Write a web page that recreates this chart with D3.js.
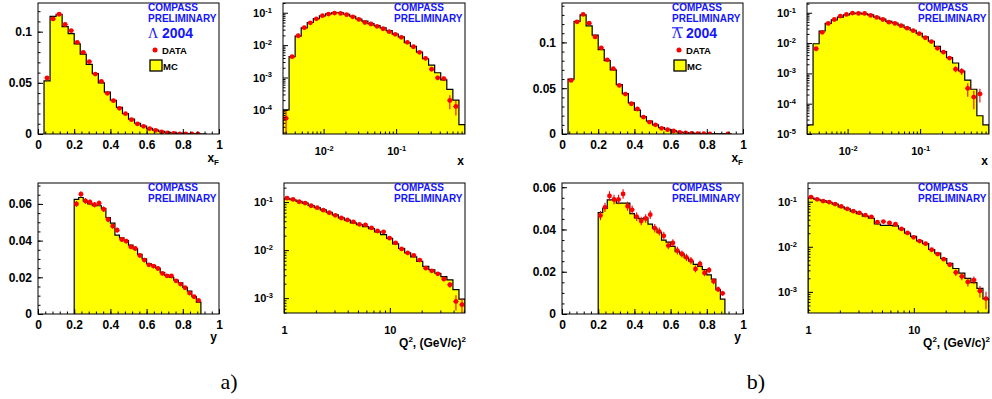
<!DOCTYPE html>
<html>
<head>
<meta charset="utf-8">
<script src="https://cdn.jsdelivr.net/npm/d3@7"></script>
<style>
  body { margin: 0; background: #fff; }
  text { font-family: "Liberation Sans", Arial, sans-serif; font-weight: bold; }
</style>
</head>
<body>
<svg id="chart" width="992" height="399"></svg>
<script>
// ---- binning of the histograms ----
const xfBins = { lo: 1 / 30, hi: 28 / 30, n: 27 };
const yBins = { lo: 0.2, hi: 0.9, n: 28 };
const xBjBins = { lo: 0.002754, hi: 0.8913, n: 30 };   // log bins
const q2Bins = { lo: 1, hi: 51.3, n: 30 };             // log bins

// ---- a) Lambda ----
const xfLamMC = [0.052, 0.115, 0.117, 0.105, 0.098, 0.088, 0.078, 0.068, 0.059, 0.050, 0.041, 0.033, 0.026, 0.020, 0.0145,
  0.0105, 0.0077, 0.0055, 0.0038, 0.0025, 0.0016, 0.0010, 0.0006, 0.0004, 0.0002, 0.0001, 0];
const xfLamData = [0.0547, 0.1124, 0.117, 0.107, 0.101, 0.0896, 0.0798, 0.0707, 0.0586, 0.0515, 0.0397, 0.0326, 0.0251, 0.0199, 0.014,
  0.0098, 0.0075, 0.0052, 0.0036, 0.002, 0.001, 0.0005, 0.0002, 0.0001, 0.0001, 0.0001, null];
const xfLamErr = [0.0008, 0.0012, 0.0012, 0.0011, 0.0011, 0.001, 0.001, 0.0009, 0.0009, 0.0008, 0.0007, 0.0007, 0.0006, 0.0005, 0.0005,
  0.0004, 0.0003, 0.0003, 0.0002, 0.0002, 0.0001, 0.0001, 0.0001, 0.0001, 0.0001, 0.0001, 0];

const xLamMC = [1e-4, 0.0044, 0.019, 0.034, 0.050, 0.066, 0.080, 0.092, 0.100, 0.100, 0.090, 0.078, 0.064, 0.055, 0.046,
  0.040, 0.034, 0.028, 0.022, 0.018, 0.012, 0.0092, 0.0061, 0.0038, 0.0024, 0.0014, 0.00085, 0.00043, 0.0002, 3.5e-5];
const xLamData = [5.5e-5, 0.0044, 0.0195, 0.0346, 0.049, 0.065, 0.081, 0.091, 0.098, 0.095, 0.087, 0.075, 0.062, 0.050, 0.045,
  0.038, 0.032, 0.026, 0.0215, 0.0174, 0.0122, 0.0089, 0.006, 0.0039, 0.0018, 0.00098, 0.00093, 0.000195, 0.000127, null];
const xLamErr = [4e-5, 2e-4, 5e-4, 7e-4, 8e-4, 9e-4, 1e-3, 1e-3, 1e-3, 1e-3, 1e-3, 9e-4, 8e-4, 7e-4, 7e-4,
  6e-4, 5e-4, 5e-4, 4e-4, 4e-4, 3e-4, 3e-4, 2e-4, 2e-4, 1.5e-4, 1.5e-4, 1.5e-4, 9e-5, 6e-5, 0];

const yLamMC = [0.0625, 0.0635, 0.0615, 0.060, 0.059, 0.059, 0.0575, 0.0525, 0.0495, 0.043, 0.0415, 0.040, 0.0375, 0.0355,
  0.0325, 0.030, 0.0275, 0.0265, 0.025, 0.0225, 0.021, 0.020, 0.0185, 0.017, 0.0145, 0.0125, 0.0095, 0.0065];
const yLamData = [0.060, 0.0653, 0.0616, 0.0609, 0.0596, 0.0604, 0.0571, 0.0515, 0.0479, 0.0457, 0.0406, 0.0397, 0.0366, 0.0357,
  0.0319, 0.0294, 0.0268, 0.0261, 0.0248, 0.0221, 0.0208, 0.0207, 0.0181, 0.0163, 0.0143, 0.0114, 0.0094, 0.0074];
const yLamErr = [0.0016, 0.0016, 0.0016, 0.0016, 0.0015, 0.0015, 0.0015, 0.0015, 0.0014, 0.0014, 0.0014, 0.0013, 0.0013, 0.0013,
  0.0012, 0.0012, 0.0012, 0.0011, 0.0011, 0.0011, 0.001, 0.001, 0.001, 0.001, 0.0009, 0.0009, 0.0009, 0.0008];

const q2LamMC = [0.118, 0.112, 0.104, 0.095, 0.085, 0.077, 0.069, 0.061, 0.054, 0.047, 0.042, 0.037, 0.034, 0.031, 0.028,
  0.024, 0.021, 0.0175, 0.0135, 0.0108, 0.0088, 0.0072, 0.0058, 0.0046, 0.0039, 0.0033, 0.0028, 0.0024, 0.0015, 0.00095];
const q2LamData = [0.121, 0.1135, 0.1016, 0.0953, 0.084, 0.0764, 0.068, 0.060, 0.053, 0.0467, 0.0425, 0.0386, 0.0345, 0.0334, 0.029,
  0.025, 0.024, 0.0177, 0.0142, 0.0106, 0.0088, 0.0078, 0.0062, 0.0042, 0.0037, 0.0032, 0.0025, 0.0019, 0.00085, 0.00073];
const q2LamErr = [0.001, 0.001, 0.001, 0.001, 0.001, 9e-4, 9e-4, 8e-4, 8e-4, 7e-4, 7e-4, 6e-4, 6e-4, 6e-4, 5e-4,
  5e-4, 5e-4, 4e-4, 4e-4, 3e-4, 3e-4, 3e-4, 3e-4, 2.5e-4, 2.5e-4, 2.5e-4, 2.5e-4, 2.5e-4, 3e-4, 2.5e-4];

// ---- b) anti-Lambda ----
const xfAlamMC = [0.060, 0.123, 0.130, 0.118, 0.108, 0.092, 0.080, 0.070, 0.054, 0.044, 0.034, 0.026, 0.019, 0.014, 0.010,
  0.007, 0.005, 0.0035, 0.0022, 0.0014, 0.0009, 0.0005, 0.0003, 0.0002, 0.0001, 0.0001, 0.0001];
const xfAlamData = [0.0585, 0.1225, 0.1305, 0.121, 0.106, 0.094, 0.081, 0.0713, 0.053, 0.0436, 0.033, 0.0273, 0.0185, 0.013, 0.010,
  0.0062, 0.0047, 0.0033, 0.0018, 0.0011, 0.0007, 0.0005, 0.0004, 0.0002, null, null, 0.0002];
const xfAlamErr = [0.001, 0.0015, 0.0015, 0.0015, 0.0014, 0.0013, 0.0012, 0.0011, 0.001, 0.0009, 0.0008, 0.0007, 0.0006, 0.0005, 0.0004,
  0.0003, 0.0003, 0.0002, 0.0002, 0.0001, 0.0001, 0.0001, 0.0001, 0.0001, 0, 0, 0.0001];

const xAlamMC = [2e-5, 0.0095, 0.025, 0.045, 0.058, 0.072, 0.085, 0.093, 0.097, 0.092, 0.085, 0.072, 0.062, 0.052, 0.046,
  0.039, 0.032, 0.0265, 0.021, 0.016, 0.0115, 0.0078, 0.0052, 0.0033, 0.0022, 0.0012, 0.0006, 0.0003, 4e-5, 2e-5];
const xAlamData = [null, 0.0065, 0.0226, 0.0446, 0.060, 0.078, 0.088, 0.098, 0.095, 0.095, 0.082, 0.070, 0.060, 0.049, 0.0446,
  0.0375, 0.031, 0.0256, 0.0204, 0.015, 0.0112, 0.0067, 0.005, 0.0032, 0.00138, 0.00118, 0.00032, 0.000165, 0.00021, null];
const xAlamErr = [0, 3e-4, 8e-4, 1.2e-3, 1.4e-3, 1.6e-3, 1.7e-3, 1.8e-3, 1.8e-3, 1.8e-3, 1.6e-3, 1.5e-3, 1.4e-3, 1.2e-3, 1.1e-3,
  1e-3, 9e-4, 8e-4, 7e-4, 6e-4, 5e-4, 4e-4, 3.5e-4, 3e-4, 3e-4, 3e-4, 1.5e-4, 1e-4, 1e-4, 0];

const yAlamMC = [0.048, 0.050, 0.054, 0.054, 0.0525, 0.0525, 0.0525, 0.0475, 0.0455, 0.045, 0.0455, 0.0425, 0.0405, 0.0385,
  0.035, 0.034, 0.032, 0.0295, 0.0285, 0.0265, 0.025, 0.0235, 0.0225, 0.021, 0.0185, 0.0165, 0.0115, 0.007];
const yAlamData = [0.0466, 0.0505, 0.0559, 0.0542, 0.0542, 0.0568, 0.051, 0.0493, 0.0461, 0.044, 0.0452, 0.047, 0.0406, 0.039,
  0.037, 0.0324, 0.0336, 0.030, 0.0284, 0.0268, 0.0253, 0.0213, 0.0237, 0.0194, 0.0208, 0.0155, 0.0117, 0.0098];
const yAlamErr = [0.0022, 0.0022, 0.0022, 0.0022, 0.0022, 0.0022, 0.0021, 0.0021, 0.0021, 0.002, 0.002, 0.002, 0.002, 0.0019,
  0.0019, 0.0018, 0.0018, 0.0018, 0.0017, 0.0017, 0.0017, 0.0016, 0.0016, 0.0015, 0.0015, 0.0014, 0.0013, 0.0012];

const q2AlamMC = [0.120, 0.113, 0.106, 0.097, 0.088, 0.077, 0.069, 0.061, 0.054, 0.048, 0.043, 0.032, 0.030, 0.030, 0.029,
  0.025, 0.020, 0.017, 0.0135, 0.0118, 0.0087, 0.0072, 0.0055, 0.0043, 0.0033, 0.0026, 0.0020, 0.0016, 0.0012, 0.0007];
const q2AlamData = [0.127, 0.113, 0.1035, 0.098, 0.0887, 0.0786, 0.0697, 0.0618, 0.0567, 0.0503, 0.0461, 0.035, 0.0363, 0.0339, 0.0316,
  0.0249, 0.0203, 0.0162, 0.0134, 0.0117, 0.0086, 0.0069, 0.0053, 0.0040, 0.0027, 0.0022, 0.00166, 0.00183, 0.00105, 0.00071];
const q2AlamErr = [0.0015, 0.0015, 0.0014, 0.0014, 0.0013, 0.0012, 0.0012, 0.0011, 0.0011, 0.001, 0.001, 9e-4, 9e-4, 9e-4, 8e-4,
  7e-4, 7e-4, 6e-4, 6e-4, 5e-4, 5e-4, 4e-4, 4e-4, 4e-4, 4.5e-4, 4e-4, 3.5e-4, 3.5e-4, 3e-4, 3e-4];

// ---- tick values ----
const linXTicks = [0, 0.2, 0.4, 0.6, 0.8, 1];
const linXLabels = ["0", "0.2", "0.4", "0.6", "0.8", "1"];
const xfYTicks = [0, 0.05, 0.1];
const xfYLabels = ["0", "0.05", "0.1"];
const yYTicks = [0, 0.02, 0.04, 0.06];
const yYLabels = ["0", "0.02", "0.04", "0.06"];
const xBjXTicks = [1e-2, 1e-1];
const q2XTicks = [1, 10];
const q2XLabels = ["1", "10"];
const xBjLamYTicks = [1e-4, 1e-3, 1e-2, 1e-1];
const xBjAlamYTicks = [1e-5, 1e-4, 1e-3, 1e-2, 1e-1];
const q2YTicks = [1e-3, 1e-2, 1e-1];

const svg = d3.select('#chart');
const BLUE = '#1414ff';
const SERIF = '"Liberation Serif", "DejaVu Serif", serif';

function logMinor(dom) {
  const out = [];
  for (let e = Math.floor(Math.log10(dom[0])); e <= Math.ceil(Math.log10(dom[1])); e++) {
    for (let k = 2; k <= 9; k++) {
      const v = k * Math.pow(10, e);
      if (v >= dom[0] && v <= dom[1]) out.push(v);
    }
  }
  return out;
}

function powLabels(sel) {
  sel.selectAll('.tick text').each(function (d) {
    const t = d3.select(this);
    t.text(null);
    t.append('tspan').text('10');
    t.append('tspan').attr('dy', '-0.55em').attr('font-size', '7.5px').text(Math.round(Math.log10(d)));
  });
}

let clipId = 0;
function panel(p) {
  const [x0, y0, x1, y1] = p.box;
  const x = (p.xLog ? d3.scaleLog() : d3.scaleLinear()).domain(p.xDom).range([x0, x1]);
  const y = (p.yLog ? d3.scaleLog() : d3.scaleLinear()).domain(p.yDom).range([y1, y0]).clamp(true);
  const g = svg.append('g');

  const b = p.bins;
  const edges = d3.range(b.n + 1).map(i => p.xLog
    ? b.lo * Math.pow(b.hi / b.lo, i / b.n)
    : b.lo + (b.hi - b.lo) * i / b.n);
  const mid = i => p.xLog ? Math.sqrt(edges[i] * edges[i + 1]) : (edges[i] + edges[i + 1]) / 2;
  const yv = v => y(Math.max(v, p.yDom[0]));

  const cid = 'clip' + (clipId++);
  g.append('clipPath').attr('id', cid).append('rect')
    .attr('x', x0).attr('y', y0).attr('width', x1 - x0).attr('height', y1 - y0);
  const inner = g.append('g').attr('clip-path', `url(#${cid})`);

  // MC histogram
  let d = `M${x(edges[0])},${y1}`;
  p.mc.forEach((v, i) => { d += `L${x(edges[i])},${yv(v)}L${x(edges[i + 1])},${yv(v)}`; });
  d += `L${x(edges[b.n])},${y1}`;
  inner.append('path').attr('d', d + 'Z').attr('fill', '#ffff00').attr('stroke', 'none');
  inner.append('path').attr('d', d).attr('fill', 'none').attr('stroke', '#000').attr('stroke-width', 1.2);

  // data points with error bars
  const pts = p.data.map((v, i) => ({ v, e: p.err[i], i })).filter(o => o.v != null);
  const pg = inner.append('g').attr('stroke', '#ff0000').attr('stroke-width', 1.1);
  pg.selectAll('line.ey').data(pts).join('line').attr('class', 'ey')
    .attr('x1', o => x(mid(o.i))).attr('x2', o => x(mid(o.i)))
    .attr('y1', o => yv(o.v - o.e)).attr('y2', o => yv(o.v + o.e));
  pg.selectAll('line.ex').data(pts).join('line').attr('class', 'ex')
    .attr('x1', o => x(edges[o.i]) + 0.5).attr('x2', o => x(edges[o.i + 1]) - 0.5)
    .attr('y1', o => yv(o.v)).attr('y2', o => yv(o.v));
  pg.selectAll('circle').data(pts).join('circle')
    .attr('cx', o => x(mid(o.i))).attr('cy', o => yv(o.v)).attr('r', 2.4)
    .attr('fill', '#ff0000').attr('stroke', 'none');

  // axes (ROOT style: ticks inward)
  const xMinor = p.xLog ? logMinor(p.xDom) : p.xMinor;
  const yMinor = p.yLog ? logMinor(p.yDom) : p.yMinor;
  g.append('g').attr('transform', `translate(0,${y1})`)
    .call(d3.axisBottom(x).tickValues(xMinor).tickSizeInner(-2.5).tickSizeOuter(0).tickFormat(''))
    .call(s => s.select('.domain').remove());
  g.append('g').attr('transform', `translate(${x0},0)`)
    .call(d3.axisLeft(y).tickValues(yMinor).tickSizeInner(-2.5).tickSizeOuter(0).tickFormat(''))
    .call(s => s.select('.domain').remove());

  const xa = g.append('g').attr('transform', `translate(0,${y1})`)
    .call(d3.axisBottom(x).tickValues(p.xTicks).tickSizeInner(-5).tickSizeOuter(0).tickPadding(p.xPad)
      .tickFormat((v, i) => p.xLabels ? p.xLabels[i] : ''));
  xa.select('.domain').remove();
  xa.selectAll('text').attr('font-size', p.xLog ? '11px' : '12px').attr('fill', '#000');
  if (p.xLog && !p.xLabels) powLabels(xa);

  const ya = g.append('g').attr('transform', `translate(${x0},0)`)
    .call(d3.axisLeft(y).tickValues(p.yTicks).tickSizeInner(-5).tickSizeOuter(0).tickPadding(p.yLog ? 11 : 6)
      .tickFormat((v, i) => p.yLabels ? p.yLabels[i] : ''));
  ya.select('.domain').remove();
  ya.selectAll('text').attr('font-size', p.yLog ? '11px' : '12px').attr('fill', '#000');
  if (p.yLog) powLabels(ya);

  // frame
  g.append('rect').attr('x', x0).attr('y', y0).attr('width', x1 - x0).attr('height', y1 - y0)
    .attr('fill', 'none').attr('stroke', '#000').attr('stroke-width', 1);

  // axis title
  const t = g.append('text').attr('x', x1 + p.titleDx).attr('y', p.titleY).attr('text-anchor', 'end')
    .attr('font-size', '12px').attr('fill', '#000');
  p.title.forEach(part => {
    const ts = t.append('tspan').text(part.s);
    if (part.sub) ts.attr('font-size', '8px').attr('dy', '3');
    if (part.sup) ts.attr('font-size', '8px').attr('dy', '-5');
    if (part.back) ts.attr('dy', part.back);
  });

  // COMPASS PRELIMINARY
  const lx = x1 - 71;
  g.append('text').attr('x', lx).attr('y', y0 + 7.8).attr('font-size', '10px').attr('fill', BLUE).text('COMPASS');
  g.append('text').attr('x', lx).attr('y', y0 + 18.8).attr('font-size', '10px').attr('fill', BLUE).text('PRELIMINARY');

  if (p.legend) {
    const lam = g.append('text').attr('x', lx).attr('y', y0 + 35).attr('fill', BLUE)
      .style('font-family', SERIF).style('font-weight', 'normal').attr('font-size', '14px').text('Λ');
    if (p.anti) {
      const bb = lam.node().getBBox();
      g.append('line').attr('x1', bb.x).attr('x2', bb.x + bb.width).attr('y1', bb.y + 1.8).attr('y2', bb.y + 1.8)
        .attr('stroke', BLUE).attr('stroke-width', 1.1);
    }
    g.append('text').attr('x', lx + 14).attr('y', y0 + 35).attr('font-size', '14px').attr('fill', BLUE).text('2004');
    g.append('circle').attr('cx', x1 - 64).attr('cy', y0 + 47).attr('r', 2.5).attr('fill', '#ff0000');
    g.append('text').attr('x', x1 - 57).attr('y', y0 + 51).attr('font-size', '9.5px').attr('fill', '#000').text('DATA');
    g.append('rect').attr('x', x1 - 69).attr('y', y0 + 57).attr('width', 12).attr('height', 11)
      .attr('fill', '#ffff00').attr('stroke', '#000').attr('stroke-width', 1.3);
    g.append('text').attr('x', x1 - 56).attr('y', y0 + 66.5).attr('font-size', '9.5px').attr('fill', '#000').text('MC');
  }
}

const xfTitle = [{ s: 'x' }, { s: 'F', sub: true }];
const xTitle = [{ s: 'x' }];
const yTitle = [{ s: 'y' }];
const q2Title = [{ s: 'Q' }, { s: '2', sup: true }, { s: ', (GeV/c)', back: '5' }, { s: '2', sup: true }];

const groups = [
  { left: 0, xf: [xfLamMC, xfLamData, xfLamErr], xb: [xLamMC, xLamData, xLamErr], yy: [yLamMC, yLamData, yLamErr],
    q2: [q2LamMC, q2LamData, q2LamErr], xfY: 0.128, xbY: [1.8e-5, 0.2], xbTicks: xBjLamYTicks, yY: 0.0714, q2Y: [4.9e-4, 0.25], anti: false },
  { left: 524, xf: [xfAlamMC, xfAlamData, xfAlamErr], xb: [xAlamMC, xAlamData, xAlamErr], yy: [yAlamMC, yAlamData, yAlamErr],
    q2: [q2AlamMC, q2AlamData, q2AlamErr], xfY: 0.143, xbY: [1e-5, 0.21], xbTicks: xBjAlamYTicks, yY: 0.062, q2Y: [3.4e-4, 0.26], anti: true }
];

groups.forEach(G => {
  const L = G.left;
  panel({ box: [38 + L, 3, 219 + L, 134], xDom: [0, 1], yDom: [0, G.xfY], bins: xfBins,
    mc: G.xf[0], data: G.xf[1], err: G.xf[2],
    xTicks: linXTicks, xLabels: linXLabels, xMinor: d3.range(0, 1.001, 0.04), xPad: 6,
    yTicks: xfYTicks, yLabels: xfYLabels, yMinor: d3.range(0, G.xfY, 0.01),
    title: xfTitle, titleDx: 0, titleY: 162, legend: true, anti: G.anti });
  panel({ box: [283 + L, 3, 465 + L, 134], xLog: true, yLog: true, xDom: [xBjBins.lo, xBjBins.hi], yDom: G.xbY, bins: xBjBins,
    mc: G.xb[0], data: G.xb[1], err: G.xb[2],
    xTicks: xBjXTicks, xPad: 13, yTicks: G.xbTicks,
    title: xTitle, titleDx: -1, titleY: 165 });
  panel({ box: [38 + L, 183, 219 + L, 314], xDom: [0, 1], yDom: [0, G.yY], bins: yBins,
    mc: G.yy[0], data: G.yy[1], err: G.yy[2],
    xTicks: linXTicks, xLabels: linXLabels, xMinor: d3.range(0, 1.001, 0.04), xPad: 6,
    yTicks: yYTicks, yLabels: yYLabels, yMinor: d3.range(0, G.yY, 0.005),
    title: yTitle, titleDx: -2, titleY: 341 });
  panel({ box: [284 + L, 183, 465 + L, 313], xLog: true, yLog: true, xDom: [q2Bins.lo, q2Bins.hi], yDom: G.q2Y, bins: q2Bins,
    mc: G.q2[0], data: G.q2[1], err: G.q2[2],
    xTicks: q2XTicks, xLabels: q2XLabels, xPad: 13, yTicks: q2YTicks,
    title: q2Title, titleDx: 1, titleY: 347 });
});

// sub-figure labels
svg.append('text').attr('x', 229).attr('y', 389).attr('text-anchor', 'middle')
  .style('font-family', SERIF).style('font-weight', 'normal').attr('font-size', '22px').text('a)');
svg.append('text').attr('x', 756).attr('y', 389).attr('text-anchor', 'middle')
  .style('font-family', SERIF).style('font-weight', 'normal').attr('font-size', '22px').text('b)');
</script>
</body>
</html>
